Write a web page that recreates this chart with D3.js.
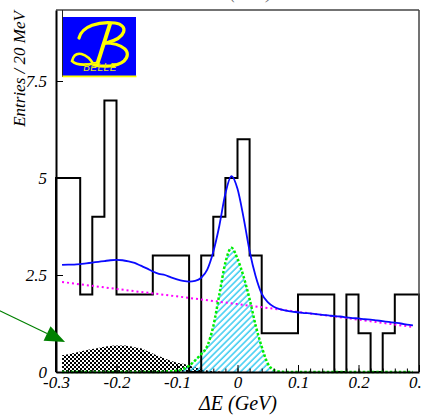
<!DOCTYPE html>
<html>
<head>
<meta charset="utf-8">
<script src="https://cdn.jsdelivr.net/npm/d3@7"></script>
<style>
  body { margin: 0; background: #fff; }
  svg { display: block; }
  text { font-family: "Liberation Serif", "Times New Roman", serif; font-style: italic; font-size: 17px; }
</style>
</head>
<body>
<div id="chart"></div>
<script>
// histogram: entries in each 20 MeV bin (low edge of the bin)
const binLow = [-0.30, -0.28, -0.26, -0.24, -0.22, -0.20, -0.18, -0.16, -0.14, -0.12,
                -0.10, -0.08, -0.06, -0.04, -0.02, 0.00, 0.02, 0.04, 0.06, 0.08,
                0.10, 0.12, 0.14, 0.16, 0.18, 0.20, 0.22, 0.24, 0.26, 0.28];
const entries = [5, 5, 2, 4, 7, 2, 2, 2, 3, 3,
                 3, 0, 3, 4, 5, 6, 3, 1, 1, 1,
                 2, 2, 2, 0, 2, 1, 0, 1, 2, 2];
const binWidth = 0.02;

// fit curves, read every 10 MeV
const fitX = [-0.29, -0.28, -0.27, -0.26, -0.25, -0.24, -0.23, -0.22, -0.21, -0.20,
              -0.19, -0.18, -0.17, -0.16, -0.15, -0.14, -0.13, -0.12, -0.11, -0.10,
              -0.09, -0.08, -0.07, -0.06, -0.05, -0.04, -0.03, -0.02, -0.01, 0.00,
              0.01, 0.02, 0.03, 0.04, 0.05, 0.06, 0.07, 0.08, 0.09, 0.10,
              0.11, 0.12, 0.13, 0.14, 0.15, 0.16, 0.17, 0.18, 0.19, 0.20,
              0.21, 0.22, 0.23, 0.24, 0.25, 0.26, 0.27, 0.28, 0.29];
const totalFit = [2.76, 2.77, 2.77, 2.78, 2.80, 2.82, 2.84, 2.86, 2.88, 2.89,
                  2.88, 2.85, 2.81, 2.74, 2.67, 2.59, 2.53, 2.50, 2.44, 2.39,
                  2.35, 2.33, 2.35, 2.43, 2.64, 3.10, 3.77, 4.60, 5.05, 4.72,
                  3.98, 3.12, 2.47, 2.02, 1.80, 1.68, 1.62, 1.58, 1.555, 1.54,
                  1.52, 1.51, 1.49, 1.47, 1.46, 1.44, 1.43, 1.41, 1.39, 1.38,
                  1.36, 1.35, 1.33, 1.31, 1.29, 1.27, 1.25, 1.22, 1.20];
const signalFit = [0, 0, 0, 0, 0, 0, 0, 0, 0, 0,
                   0, 0, 0, 0, 0, 0, 0, 0.01, 0.02, 0.03,
                   0.08, 0.16, 0.30, 0.46, 0.67, 1.18, 2.00, 2.82, 3.20, 2.92,
                   2.46, 1.88, 1.20, 0.65, 0.22, 0.05, 0.01, 0, 0, 0,
                   0, 0, 0, 0, 0, 0, 0, 0, 0, 0,
                   0, 0, 0, 0, 0, 0, 0, 0, 0];
const peakingBkg = [0.43, 0.46, 0.49, 0.53, 0.56, 0.59, 0.62, 0.65, 0.67, 0.68,
                    0.68, 0.67, 0.64, 0.61, 0.55, 0.48, 0.41, 0.35, 0.29, 0.24,
                    0.21, 0.17, 0.12, 0.08, 0.04, 0.02, 0.01, 0, 0, 0,
                    0, 0, 0, 0, 0, 0, 0, 0, 0, 0,
                    0, 0, 0, 0, 0, 0, 0, 0, 0, 0,
                    0, 0, 0, 0, 0, 0, 0, 0, 0];

// continuum background (dotted magenta)
const contX = [-0.29, -0.20, -0.10, 0.00, 0.10, 0.20, 0.29];
const contY = [2.32, 2.14, 1.95, 1.75, 1.55, 1.35, 1.16];

const xTicks = [-0.3, -0.2, -0.1, 0, 0.1, 0.2, 0.3];
const xTickLabels = ["-0.3", "-0.2", "-0.1", "0", "0.1", "0.2", "0.3"];
const yTicks = [0, 2.5, 5, 7.5];
const yTickLabels = ["0", "2.5", "5", "7.5"];

// arrow pointing at the peaking background (data coords)
const arrowFrom = [-0.393, 1.58];
const arrowTo = [-0.285, 0.77];

const W = 421, H = 417;
const svg = d3.select('#chart').append('svg')
    .attr('width', W)
    .attr('height', H);

const x = d3.scaleLinear().domain([-0.3, 0.3]).range([56, 419]);
const y = d3.scaleLinear().domain([0, 9.33]).range([372, 10]);

const defs = svg.append('defs');
// checkered fill for peaking background
const chk = defs.append('pattern')
    .attr('id', 'checker')
    .attr('patternUnits', 'userSpaceOnUse')
    .attr('width', 4).attr('height', 4);
chk.append('rect').attr('x', 0).attr('y', 0).attr('width', 2).attr('height', 2).attr('fill', '#000');
chk.append('rect').attr('x', 2).attr('y', 2).attr('width', 2).attr('height', 2).attr('fill', '#000');
// diagonal hatch for signal
const hatch = defs.append('pattern')
    .attr('id', 'hatch')
    .attr('patternUnits', 'userSpaceOnUse')
    .attr('width', 4.5).attr('height', 4.5)
    .attr('patternTransform', 'rotate(45)');
hatch.append('line')
    .attr('x1', 1).attr('y1', 0).attr('x2', 1).attr('y2', 4.5)
    .attr('stroke', '#2cc8f0').attr('stroke-width', 1.4);

const fit = fitX.map((d, i) => ({ x: d, total: totalFit[i], sig: signalFit[i], peak: peakingBkg[i] }));

// peaking background
const peakPts = fit.filter(d => d.x <= -0.02);
svg.append('path')
    .datum(peakPts)
    .attr('fill', 'url(#checker)')
    .attr('d', d3.area()
        .x(d => x(d.x))
        .y0(y(0))
        .y1(d => y(d.peak))
        .curve(d3.curveMonotoneX));

// signal
svg.append('path')
    .datum(fit)
    .attr('fill', 'url(#hatch)')
    .attr('d', d3.area()
        .x(d => x(d.x))
        .y0(y(0))
        .y1(d => y(d.sig))
        .curve(d3.curveMonotoneX));

// data histogram
const histPts = [[binLow[0], 0]];
binLow.forEach((b, i) => {
    histPts.push([b, entries[i]]);
    histPts.push([b + binWidth, entries[i]]);
});
histPts.push([binLow[binLow.length - 1] + binWidth, 0]);
svg.append('path')
    .datum(histPts)
    .attr('fill', 'none')
    .attr('stroke', '#000')
    .attr('stroke-width', 2)
    .attr('d', d3.line().x(d => x(d[0])).y(d => y(d[1])));

// continuum
svg.append('path')
    .datum(contX.map((d, i) => [d, contY[i]]))
    .attr('fill', 'none')
    .attr('stroke', '#ff00ff')
    .attr('stroke-width', 2)
    .attr('stroke-dasharray', '2,3')
    .attr('d', d3.line().x(d => x(d[0])).y(d => y(d[1])));

// signal outline
svg.append('path')
    .datum(fit)
    .attr('fill', 'none')
    .attr('stroke', '#00ee00')
    .attr('stroke-width', 2.5)
    .attr('stroke-dasharray', '2.5,2')
    .attr('d', d3.line().x(d => x(d.x)).y(d => y(d.sig)).curve(d3.curveMonotoneX));

// total fit
svg.append('path')
    .datum(fit)
    .attr('fill', 'none')
    .attr('stroke', '#0a0aff')
    .attr('stroke-width', 1.8)
    .attr('d', d3.line().x(d => x(d.x)).y(d => y(d.total)).curve(d3.curveMonotoneX));

// frame top / right
svg.append('line')
    .attr('x1', x(-0.3)).attr('x2', x(0.3)).attr('y1', y(9.33)).attr('y2', y(9.33))
    .attr('stroke', '#444').attr('stroke-width', 1.5);
svg.append('line')
    .attr('x1', x(0.3)).attr('x2', x(0.3)).attr('y1', y(9.33)).attr('y2', y(0))
    .attr('stroke', '#444').attr('stroke-width', 1.5);

// x axis
const gx = svg.append('g')
    .attr('transform', `translate(0,${y(0)})`)
    .call(d3.axisBottom(x)
        .tickValues(xTicks)
        .tickFormat((d, i) => xTickLabels[i])
        .tickSizeInner(-7)
        .tickSizeOuter(0)
        .tickPadding(4));
gx.attr('font-family', null).attr('font-size', null);
gx.select('.domain').attr('stroke-width', 2);
gx.selectAll('.tick line').attr('stroke-width', 1);

const gxm = svg.append('g')
    .attr('transform', `translate(0,${y(0)})`)
    .call(d3.axisBottom(x)
        .tickValues(x.ticks(30))
        .tickFormat('')
        .tickSizeInner(-3.5)
        .tickSizeOuter(0));
gxm.select('.domain').remove();

// y axis
const gy = svg.append('g')
    .attr('transform', `translate(${x(-0.3)},0)`)
    .call(d3.axisLeft(y)
        .tickValues(yTicks)
        .tickFormat((d, i) => yTickLabels[i])
        .tickSizeInner(-7)
        .tickSizeOuter(0)
        .tickPadding(9));
gy.attr('font-family', null).attr('font-size', null);
gy.select('.domain').attr('stroke-width', 2);

// axis titles
svg.append('text')
    .attr('transform', 'translate(25,69) rotate(-90)')
    .attr('text-anchor', 'middle')
    .text('Entries / 20 MeV');

svg.append('text')
    .attr('x', 238)
    .attr('y', 410)
    .attr('text-anchor', 'middle')
    .style('font-size', '20px')
    .text('ΔE (GeV)');

// cut-off title at the top
svg.append('text')
    .attr('x', 251)
    .attr('y', -1)
    .attr('text-anchor', 'middle')
    .attr('fill', '#666')
    .text('(GeV)');

// arrow
const a0 = [x(arrowFrom[0]), y(arrowFrom[1])];
const a1 = [x(arrowTo[0]), y(arrowTo[1])];
const ang = Math.atan2(a1[1] - a0[1], a1[0] - a0[0]);
const hl = 20, hw = 8;
const bx = a1[0] - hl * Math.cos(ang), by = a1[1] - hl * Math.sin(ang);
svg.append('line')
    .attr('x1', a0[0]).attr('y1', a0[1]).attr('x2', bx).attr('y2', by)
    .attr('stroke', '#008000').attr('stroke-width', 1.2);
svg.append('polygon')
    .attr('points', [
        a1,
        [bx - hw * Math.sin(ang), by + hw * Math.cos(ang)],
        [bx + hw * Math.sin(ang), by - hw * Math.cos(ang)]
    ].map(p => p.join(',')).join(' '))
    .attr('fill', '#008000');

// Belle logo
svg.append('line')
    .attr('x1', 62.5).attr('x2', 62.5).attr('y1', 10).attr('y2', 77)
    .attr('stroke', '#222').attr('stroke-width', 1);
const logo = svg.append('g').attr('transform', 'translate(63,17)');
logo.append('rect').attr('width', 73).attr('height', 59).attr('fill', '#0000ff');
logo.append('rect').attr('x', -0.5).attr('y', 58.5).attr('width', 74).attr('height', 1.8).attr('fill', '#ffff00');
const bStroke = (d, w) => logo.append('path').attr('d', d)
    .attr('fill', 'none').attr('stroke', '#ffff00')
    .attr('stroke-width', w).attr('stroke-linecap', 'round');
bStroke('M16,21 C19,9 36,4 52,6 C66,8 64,21 43,26', 3.2);
bStroke('M41,26 C60,26 70,35 61,44 C54,50 40,50 31,48', 3.2);
bStroke('M31,48 C24,36 12,32 9,44 C14,49 24,48 33,46', 2.6);
bStroke('M47,7 L34,48', 4);
logo.append('text')
    .attr('x', 37)
    .attr('y', 54)
    .attr('text-anchor', 'middle')
    .attr('fill', '#e6e617')
    .style('font-family', '"Liberation Sans", Arial, sans-serif')
    .style('font-size', '10px')
    .style('letter-spacing', '0.5px')
    .text('BELLE');
</script>
</body>
</html>
